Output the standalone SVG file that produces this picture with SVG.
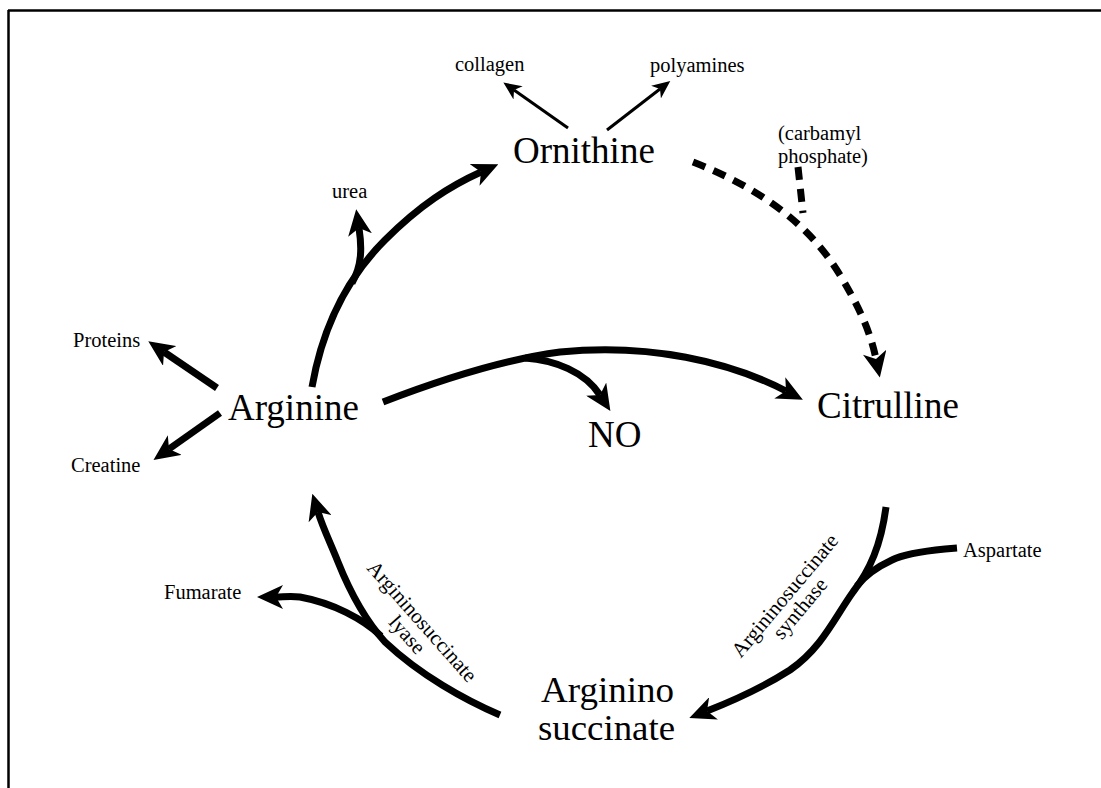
<svg xmlns="http://www.w3.org/2000/svg" width="1101" height="788" viewBox="0 0 1101 788">
<style>
.big{font-family:"Liberation Serif","Times New Roman",serif;font-size:37px;fill:#000}
.sm{font-family:"Liberation Serif","Times New Roman",serif;font-size:20.5px;fill:#000}
.en{font-family:"Liberation Serif","Times New Roman",serif;font-size:21px;fill:#000;text-anchor:middle}
.thick{fill:none;stroke:#000;stroke-width:7}
.thin{fill:none;stroke:#000;stroke-width:3}
.dash{fill:none;stroke:#000;stroke-width:7;stroke-dasharray:13 9}
</style>
<defs>
<marker id="ah" markerUnits="userSpaceOnUse" markerWidth="26" markerHeight="24" viewBox="0 0 26 24" refX="7" refY="12" orient="auto">
<path d="M0,0 L26,12 L0,24 L7,12 z" fill="#000"/>
</marker>
<marker id="ahs" markerUnits="userSpaceOnUse" markerWidth="18" markerHeight="16" viewBox="0 0 18 16" refX="5" refY="8" orient="auto">
<path d="M0,0 L18,8 L0,16 L5,8 z" fill="#000"/>
</marker>
</defs>
<rect width="1101" height="788" fill="#fff"/>
<g id="frame">
<line x1="8" y1="10.5" x2="1101" y2="10.5" stroke="#000" stroke-width="2.5"/>
<line x1="8.5" y1="10" x2="8.5" y2="788" stroke="#000" stroke-width="2.5"/>
</g>
<g id="connectors">
<path class="thick" d="M312,387 C322,330 345,280 385,240 C420,205 450,186 481,172" marker-end="url(#ah)"/>
<path class="thick" d="M352,283 C362,265 362,248 359,228" marker-end="url(#ah)"/>
<path class="thin" d="M568,128 L514,90" marker-end="url(#ahs)"/>
<path class="thin" d="M607,130 L660,89" marker-end="url(#ahs)"/>
<path class="dash" d="M693,162 C760,188 810,225 840,275 C858,305 870,330 876,359" marker-end="url(#ah)"/>
<path class="dash" d="M798,167 L803,213"/>
<path class="thick" d="M383,402 C440,380 500,360 560,352 C650,343 730,362 786,391" marker-end="url(#ah)"/>
<path class="thick" d="M525,358 C555,360 585,372 600,395" marker-end="url(#ah)"/>
<path class="thick" d="M217,388 L164,352" marker-end="url(#ah)"/>
<path class="thick" d="M220,413 L169,449" marker-end="url(#ah)"/>
<path class="thick" d="M886,507 C881,545 870,570 853,592 C835,617 822,648 790,670 C765,686 735,700 707,711" marker-end="url(#ah)"/>
<path class="thick" d="M957,548 L945,549 C915,552 902,555 892,560 C877,567 866,574 857,586"/>
<path class="thick" d="M500,715 C465,700 420,675 385,642 C365,620 350,592 338,562 C330,542 323,528 318,512" marker-end="url(#ah)"/>
<path class="thick" d="M381,636 C363,619 333,603 300,597 C290,596 283,597 276,597" marker-end="url(#ah)"/>
</g>
<g id="ornithine"><text class="big" x="513" y="163">Ornithine</text></g>
<g id="arginine"><text class="big" x="228" y="420">Arginine</text></g>
<g id="citrulline"><text class="big" x="817" y="418">Citrulline</text></g>
<g id="no"><text class="big" x="588" y="447">NO</text></g>
<g id="argininosuccinate"><text class="big" x="541" y="702" style="font-size:35px" textLength="133" lengthAdjust="spacingAndGlyphs">Arginino</text><text class="big" x="538" y="740" style="font-size:35px" textLength="137" lengthAdjust="spacingAndGlyphs">succinate</text></g>
<g id="collagen"><text class="sm" x="455" y="71">collagen</text></g>
<g id="polyamines"><text class="sm" x="650" y="72">polyamines</text></g>
<g id="urea"><text class="sm" x="332" y="198">urea</text></g>
<g id="carbamyl"><text class="sm" x="778" y="140">(carbamyl</text><text class="sm" x="778" y="163">phosphate)</text></g>
<g id="proteins"><text class="sm" x="73" y="347">Proteins</text></g>
<g id="creatine"><text class="sm" x="71" y="472">Creatine</text></g>
<g id="aspartate"><text class="sm" x="963" y="557">Aspartate</text></g>
<g id="fumarate"><text class="sm" x="164" y="599">Fumarate</text></g>
<g id="synthase" transform="translate(790,600) rotate(-50)"><text class="en" x="0" y="0">Argininosuccinate</text><text class="en" x="0" y="20">synthase</text></g>
<g id="lyase" transform="translate(417,626) rotate(48.5)"><text class="en" x="0" y="0">Argininosuccinate</text><text class="en" x="0" y="20">lyase</text></g>
</svg>
